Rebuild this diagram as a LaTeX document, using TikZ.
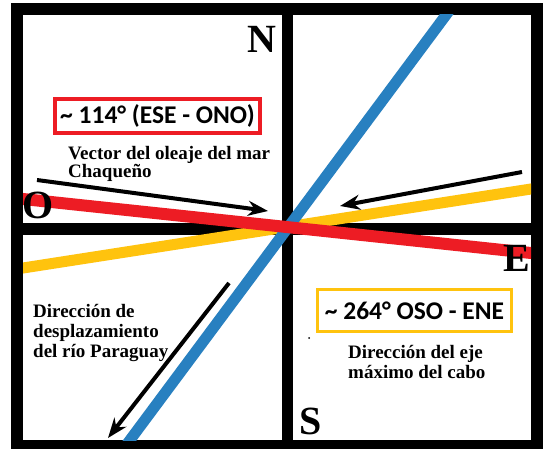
\documentclass[tikz,border=0pt]{standalone}
\usepackage{fontspec}
\setmainfont{Liberation Serif}
\newfontfamily\boxfont{Carlito}
\usetikzlibrary{arrows.meta}
\definecolor{pred}{RGB}{237,28,36}
\definecolor{pyel}{RGB}{255,195,14}
\definecolor{pblue}{RGB}{40,128,192}
\begin{document}
\begin{tikzpicture}[x=1pt,y=-1pt,
  band/.style={line width=11pt, shorten <=-8pt, shorten >=-8pt},
  arr/.style={line width=4pt, -{Stealth[length=20pt,width=15pt]}},
  cardinal/.style={font=\bfseries\fontsize{40}{40}\selectfont, inner sep=0pt},
  lbl/.style={font=\bfseries\fontsize{19}{20}\selectfont, inner sep=0pt},
  boxlbl/.style={font=\boxfont\bfseries\fontsize{25.5}{25.5}\selectfont, inner sep=0pt, line width=4pt}]
\useasboundingbox (0,0) rectangle (543,449);
% frame
\fill[black] (11,3) rectangle (543,449);
\fill[white] (23,15) rectangle (282,223);
\fill[white] (293,15) rectangle (531,223);
\fill[white] (23,235) rectangle (282,440);
\fill[white] (293,235) rectangle (531,440);
% direction lines
\coordinate (rW) at (23,199); \coordinate (rE) at (531,253);
\coordinate (yW) at (23,268); \coordinate (yE) at (531,189);
\coordinate (bS) at (130,440); \coordinate (bN) at (446,15);
\begin{scope}
  \clip (23,15) rectangle (531,440);
  \draw[band, pyel] (yW) -- (yE);
  \draw[band, pblue] (bS) -- (bN);
  \draw[band, pred, line width=12pt] (rW) -- (rE);
\end{scope}
% arrows
\coordinate (a1s) at (37,180); \coordinate (a1e) at (268,211);
\coordinate (a2s) at (522,172); \coordinate (a2e) at (340,206);
\coordinate (a3s) at (229,283); \coordinate (a3e) at (108,438);
\draw[arr] (a1s) -- (a1e);
\draw[arr] (a2s) -- (a2e);
\draw[arr] (a3s) -- (a3e);
% cardinal letters
\node[cardinal] (N) at (262,39) {N};
\node[cardinal] (O) at (38,205) {O};
\node[cardinal] (E) at (517,258) {E};
\node[cardinal] (S) at (311,421) {S};
% boxes
\node[boxlbl, draw=pred, fill=white, minimum width=205pt, minimum height=34pt] (rbox) at (157.5,116) {\char"007E\ 114° (ESE - ONO)};
\node[boxlbl, draw=pyel, line width=3.5pt, fill=white, minimum width=194pt, minimum height=42pt] (ybox) at (414.5,310.5) {\char"007E\ 264° OSO - ENE};
% texts
\node[lbl, anchor=base west] (t1) at (68,160) {Vector del oleaje del mar};
\node[lbl, anchor=base west] (t2) at (68,178) {Chaqueño};
\node[lbl, anchor=base west] (t3) at (33,317) {Dirección de};
\node[lbl, anchor=base west] (t4) at (33,337) {desplazamiento};
\node[lbl, anchor=base west] (t5) at (33,357) {del río Paraguay};
\node[lbl, anchor=base west] (t6) at (348,358) {Dirección del eje};
\node[lbl, anchor=base west] (t7) at (348,378) {máximo del cabo};
\fill (309,338) circle (1pt);
\end{tikzpicture}
\end{document}
